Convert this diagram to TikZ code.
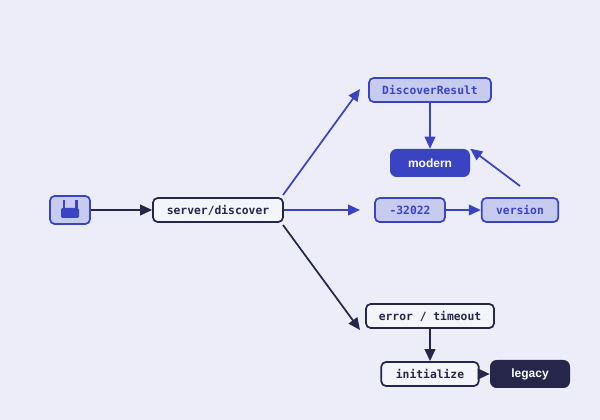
\documentclass[tikz,border=0pt]{standalone}
\usepackage{fontspec}
\setmainfont{Liberation Sans}
\newfontfamily\mono{DejaVu Sans Mono}
\usetikzlibrary{arrows.meta}
\definecolor{bg}{HTML}{ECEDF9}
\definecolor{blu}{HTML}{3A44C2}
\definecolor{lblu}{HTML}{C7CCEF}
\definecolor{dk}{HTML}{25264A}
\definecolor{wt}{HTML}{F4F4FB}
\tikzset{
 px/.style={x=0.75pt,y=-0.75pt},
 box/.style={rounded corners=3.5pt,line width=1.3pt,inner sep=0pt,minimum height=18pt,font=\mono\bfseries\fontsize{8.5}{10}\selectfont},
 bl/.style={box,draw=blu,fill=lblu,text=blu},
 dn/.style={box,draw=dk,fill=wt,text=dk},
 solid/.style={rounded corners=5pt,inner sep=0pt,minimum height=21pt,text=white,font=\bfseries\fontsize{9}{11}\selectfont},
 arr/.style={line width=1.3pt,-{Triangle[length=9pt,width=8pt]}},
}
\begin{document}
\begin{tikzpicture}[px]
\fill[bg] (0,0) rectangle (600,420);
\useasboundingbox (0,0) rectangle (600,420);
\node[bl,minimum width=30pt,minimum height=21pt] (icon) at (70,210) {};
\fill[blu,rounded corners=1pt] (61,208) rectangle (79,218);
\fill[blu] (62.5,200) rectangle (65,209);
\fill[blu] (75,200) rectangle (77.5,209);
\node[dn,minimum width=97.5pt] (srv) at (218,210) {server/discover};
\node[bl,minimum width=91.5pt] (dr) at (430,90) {DiscoverResult};
\node[solid,fill=blu,minimum width=60pt] (mod) at (430,163) {modern};
\node[bl,minimum width=52.5pt] (err) at (410,210) {-32022};
\node[bl,minimum width=57.5pt] (ver) at (520,210) {version};
\node[dn,minimum width=96pt] (et) at (430,316) {error / timeout};
\node[dn,minimum width=73pt] (ini) at (430,374) {initialize};
\node[solid,fill=dk,minimum width=60pt] (leg) at (530,374) {legacy};
\coordinate (a1) at (360,89);
\coordinate (a2) at (360,210);
\coordinate (a3) at (360,330);
\coordinate (vs) at (520,186);
\draw[arr,dk] (icon) -- (srv);
\draw[arr,blu] (283,195) -- (a1);
\draw[arr,blu] (srv.east) -- (a2);
\draw[arr,dk] (283,225) -- (a3);
\draw[arr,blu] (dr) -- (mod);
\draw[arr,blu] (err) -- (ver);
\draw[arr,blu] (vs) -- (mod.north east);
\draw[arr,dk] (et) -- (ini);
\draw[arr,dk] (ini) -- (leg);
\end{tikzpicture}
\end{document}
